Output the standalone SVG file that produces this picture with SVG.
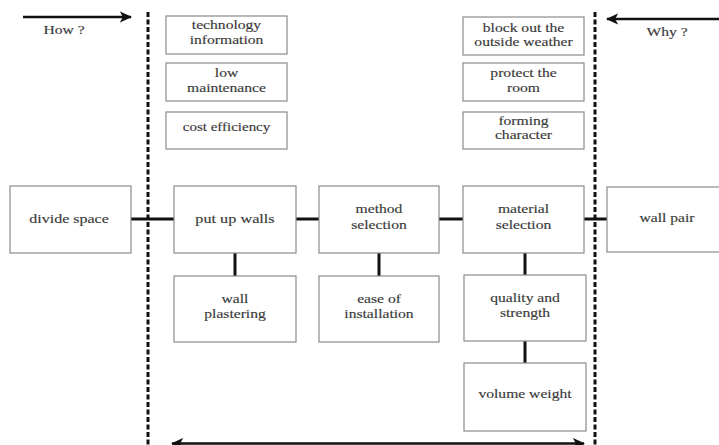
<svg xmlns="http://www.w3.org/2000/svg" width="719" height="445" viewBox="0 0 719 445">
  <style>
    .box { fill: #ffffff; stroke: #8a8a8a; stroke-width: 1.2; }
    .lbl { font-family: "Liberation Serif", "Times New Roman", serif; font-size: 12.5px; fill: #3a3a3a; text-anchor: middle; stroke: #3a3a3a; stroke-width: 0.15; }
    .link { stroke: #111111; stroke-width: 3; fill: none; }
    .guide { stroke: #111111; stroke-width: 3; stroke-dasharray: 5 2.5; fill: none; }
    .dir { stroke: #111111; stroke-width: 2.5; fill: none; }
  </style>
  <defs>
    <marker id="head" viewBox="0 0 10 10" refX="9" refY="5" markerWidth="5" markerHeight="5" orient="auto-start-reverse" markerUnits="strokeWidth">
      <path d="M0,0.5 L10,5 L0,9.5 L2.5,5 Z" fill="#111111"/>
    </marker>
  </defs>
  <rect width="719" height="445" fill="#ffffff"/>

  <!-- boundary guides and direction arrows -->
  <g id="guides">
    <line class="guide" x1="148" y1="12" x2="148" y2="445"/>
    <line class="guide" x1="595" y1="12" x2="595" y2="445"/>
    <line class="dir" x1="23" y1="17" x2="131" y2="17" marker-end="url(#head)"/>
    <line class="dir" x1="719" y1="19" x2="607" y2="19" marker-end="url(#head)"/>
    <line class="dir" x1="172" y1="443.5" x2="584" y2="443.5" marker-start="url(#head)" marker-end="url(#head)"/>
    <text class="lbl" transform="translate(64 34) scale(1.25 1)">How ?</text>
    <text class="lbl" transform="translate(667 36) scale(1.25 1)">Why ?</text>
  </g>

  <!-- connectors -->
  <g id="connectors">
    <line class="link" x1="131" y1="219" x2="174" y2="219"/>
    <line class="link" x1="296" y1="219" x2="319" y2="219"/>
    <line class="link" x1="439" y1="219" x2="463" y2="219"/>
    <line class="link" x1="584" y1="219" x2="607" y2="219"/>
    <line class="link" x1="235" y1="253" x2="235" y2="276"/>
    <line class="link" x1="379" y1="253" x2="379" y2="276"/>
    <line class="link" x1="525" y1="253" x2="525" y2="275"/>
    <line class="link" x1="525" y1="341" x2="525" y2="363"/>
  </g>

  <!-- upper left column -->
  <g id="technology-information">
    <rect class="box" x="166" y="16" width="121" height="38"/>
    <text class="lbl" transform="translate(226.5 29) scale(1.25 1)"><tspan x="0" y="0">technology</tspan><tspan x="0" y="15">information</tspan></text>
  </g>
  <g id="low-maintenance">
    <rect class="box" x="166" y="63" width="121" height="38"/>
    <text class="lbl" transform="translate(226.5 77) scale(1.25 1)"><tspan x="0" y="0">low</tspan><tspan x="0" y="15.5">maintenance</tspan></text>
  </g>
  <g id="cost-efficiency">
    <rect class="box" x="166" y="112" width="121" height="37"/>
    <text class="lbl" transform="translate(226.5 131) scale(1.2 1)">cost efficiency</text>
  </g>

  <!-- upper right column -->
  <g id="block-out-weather">
    <rect class="box" x="463" y="17" width="121" height="38"/>
    <text class="lbl" transform="translate(523.5 31.5) scale(1.25 1)"><tspan x="0" y="0">block out the</tspan><tspan x="0" y="14.5">outside weather</tspan></text>
  </g>
  <g id="protect-room">
    <rect class="box" x="463" y="63" width="121" height="38"/>
    <text class="lbl" transform="translate(523.5 77) scale(1.25 1)"><tspan x="0" y="0">protect the</tspan><tspan x="0" y="15">room</tspan></text>
  </g>
  <g id="forming-character">
    <rect class="box" x="463" y="112" width="121" height="37"/>
    <text class="lbl" transform="translate(523.5 125) scale(1.25 1)"><tspan x="0" y="0">forming</tspan><tspan x="0" y="14.5">character</tspan></text>
  </g>

  <!-- main row -->
  <g id="divide-space">
    <rect class="box" x="10" y="186" width="121" height="67"/>
    <text class="lbl" transform="translate(69 223) scale(1.28 1)">divide space</text>
  </g>
  <g id="put-up-walls">
    <rect class="box" x="174" y="186" width="122" height="67"/>
    <text class="lbl" transform="translate(235 223) scale(1.3 1)">put up walls</text>
  </g>
  <g id="method-selection">
    <rect class="box" x="319" y="186" width="120" height="67"/>
    <text class="lbl" transform="translate(379 213) scale(1.25 1)"><tspan x="0" y="0">method</tspan><tspan x="0" y="16">selection</tspan></text>
  </g>
  <g id="material-selection">
    <rect class="box" x="463" y="186" width="121" height="67"/>
    <text class="lbl" transform="translate(523.5 213) scale(1.25 1)"><tspan x="0" y="0">material</tspan><tspan x="0" y="16">selection</tspan></text>
  </g>
  <g id="wall-pair">
    <rect class="box" x="607" y="187" width="125" height="65"/>
    <text class="lbl" transform="translate(667 222) scale(1.25 1)">wall pair</text>
  </g>

  <!-- lower row -->
  <g id="wall-plastering">
    <rect class="box" x="174" y="276" width="122" height="66"/>
    <text class="lbl" transform="translate(235 303) scale(1.25 1)"><tspan x="0" y="0">wall</tspan><tspan x="0" y="15.5">plastering</tspan></text>
  </g>
  <g id="ease-of-installation">
    <rect class="box" x="319" y="276" width="120" height="66"/>
    <text class="lbl" transform="translate(379 303) scale(1.25 1)"><tspan x="0" y="0">ease of</tspan><tspan x="0" y="15.5">installation</tspan></text>
  </g>
  <g id="quality-strength">
    <rect class="box" x="464" y="275" width="122" height="66"/>
    <text class="lbl" transform="translate(525 302) scale(1.25 1)"><tspan x="0" y="0">quality and</tspan><tspan x="0" y="15.5">strength</tspan></text>
  </g>
  <g id="volume-weight">
    <rect class="box" x="464" y="363" width="122" height="68"/>
    <text class="lbl" transform="translate(525 398) scale(1.25 1)">volume weight</text>
  </g>
</svg>
